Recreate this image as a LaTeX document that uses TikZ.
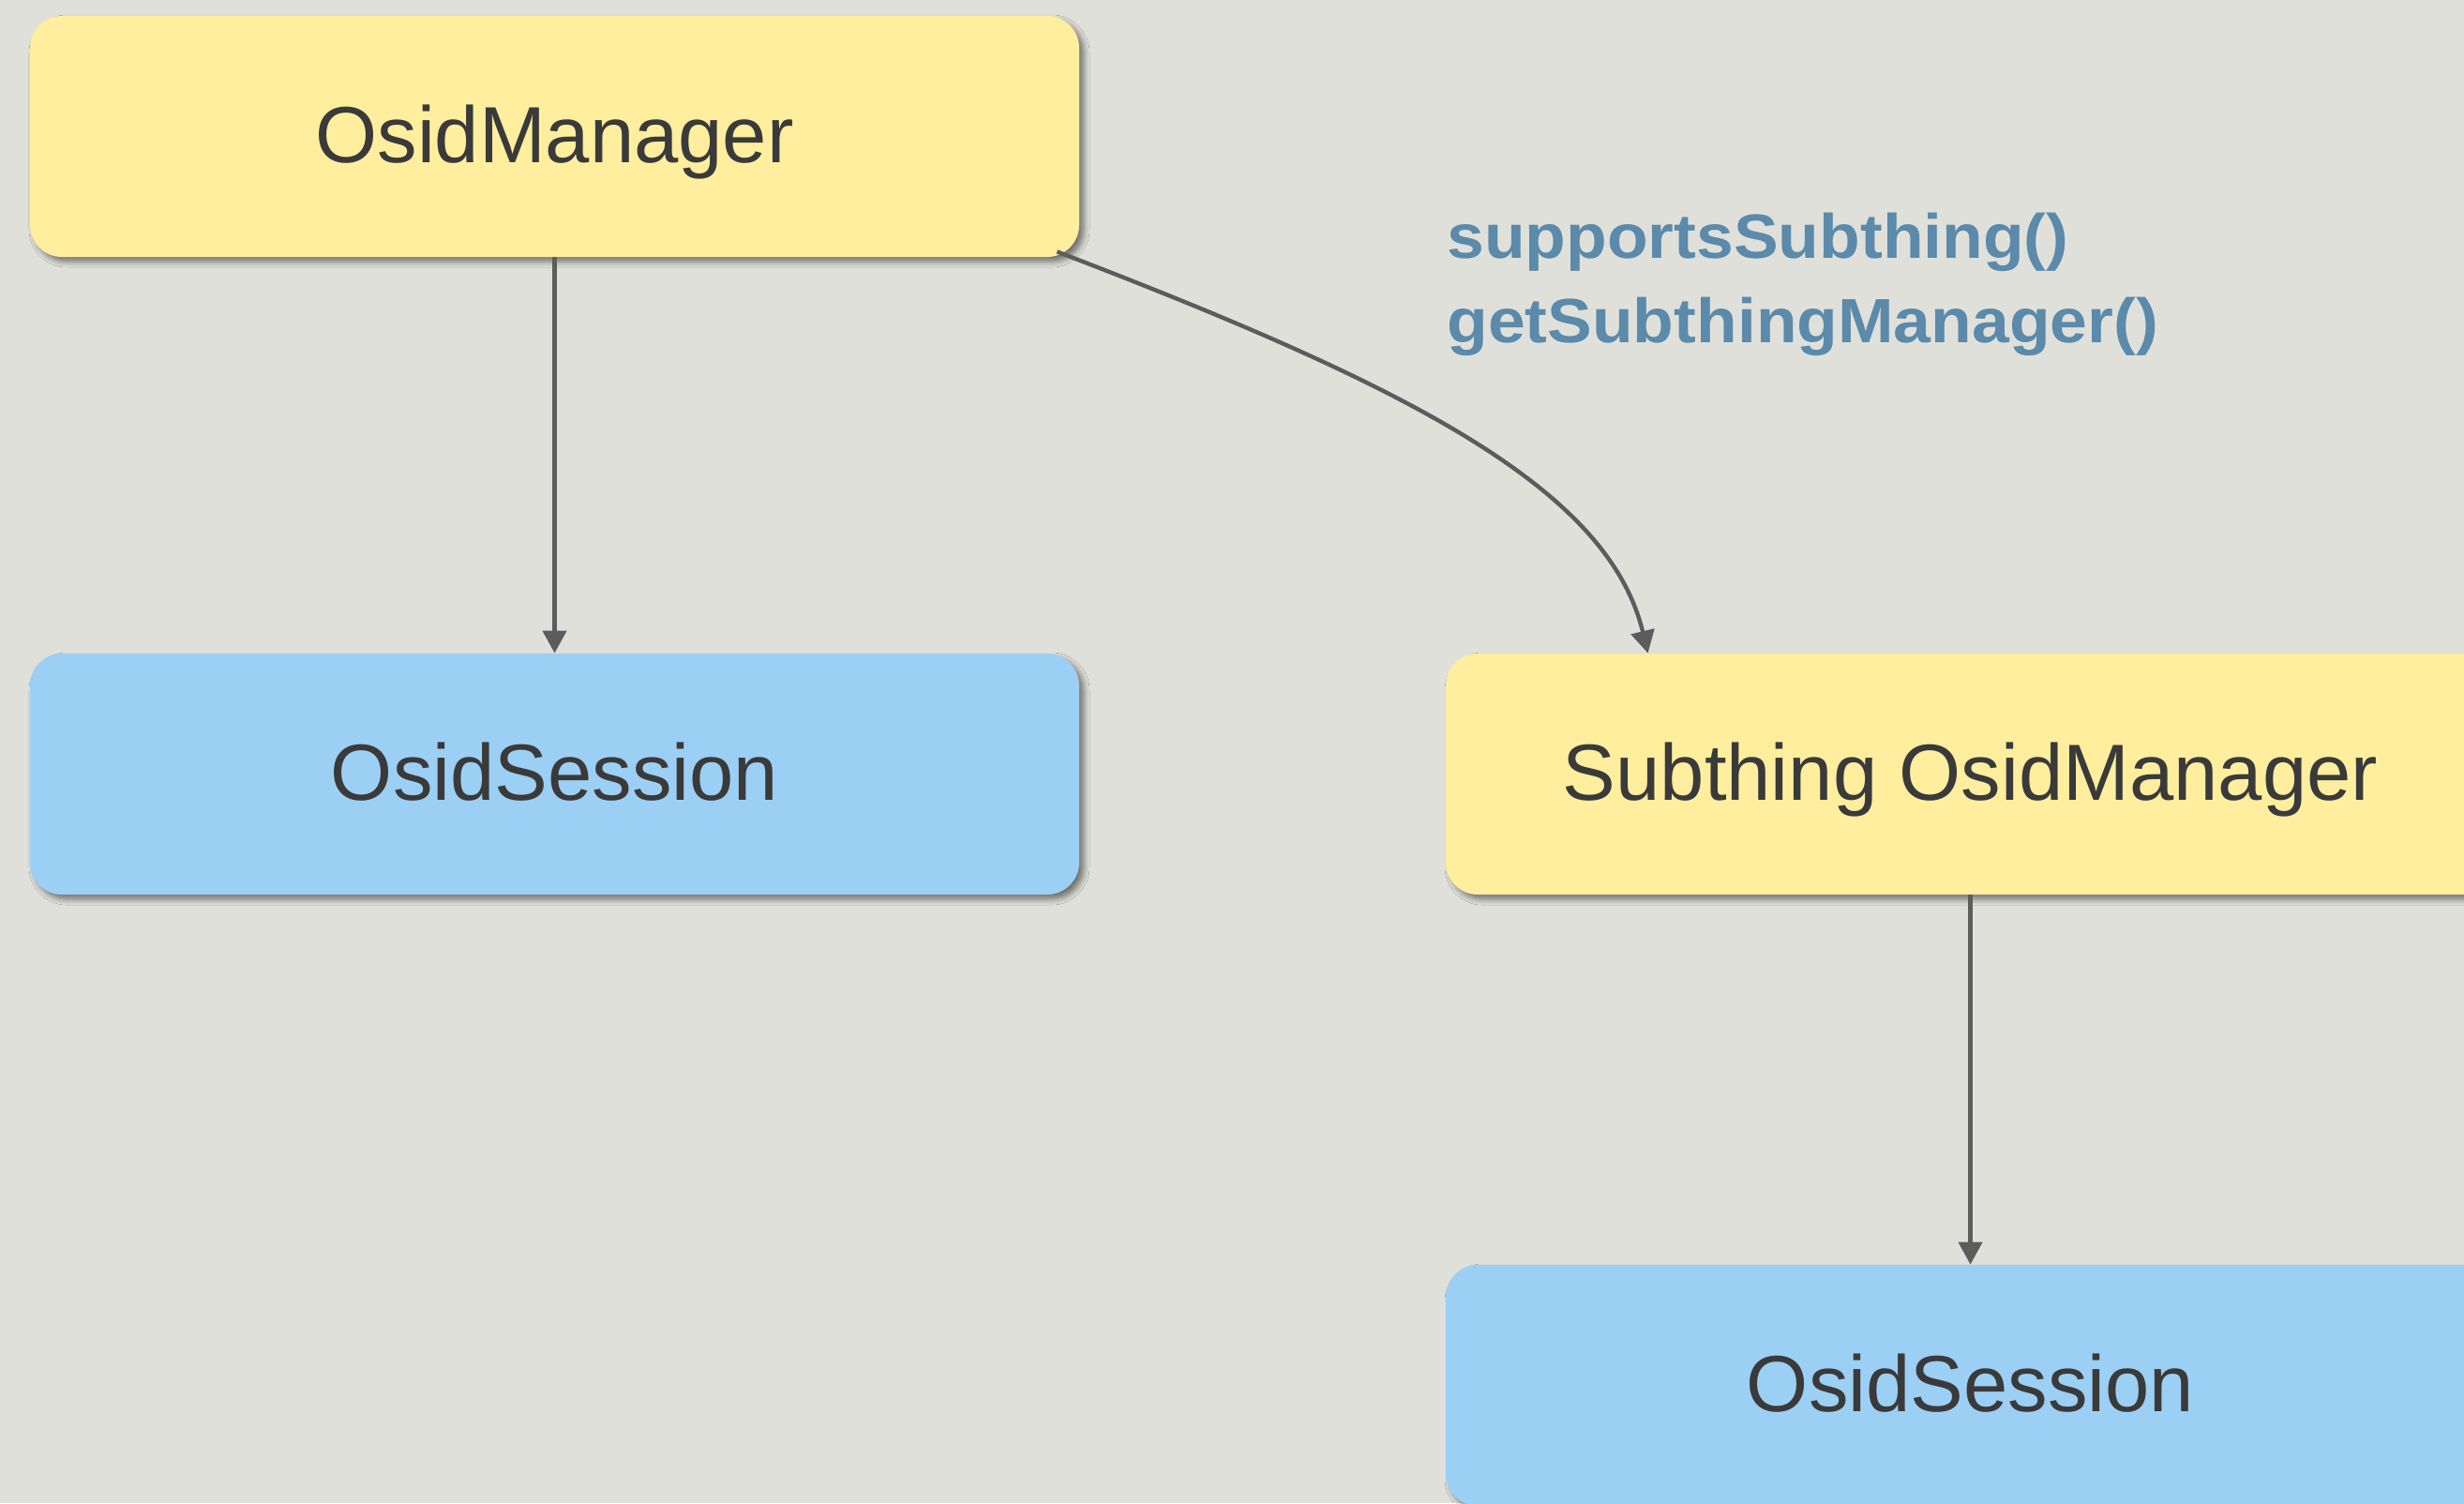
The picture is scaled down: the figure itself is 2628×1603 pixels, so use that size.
\documentclass[tikz,border=0pt]{standalone}
\usepackage{fontspec}
\setmainfont{Liberation Sans}
\newfontfamily\labelfont{Liberation Sans}[FakeStretch=1.07]
\usetikzlibrary{arrows.meta,shadows.blur,calc}

\definecolor{paper}{HTML}{E0E0DB}
\definecolor{mgrfill}{HTML}{FEEE9E}
\definecolor{sesfill}{HTML}{9CCFF4}
\definecolor{ink}{HTML}{3A3A3A}
\definecolor{labelblue}{HTML}{5B8AAA}
\definecolor{wire}{HTML}{5C5C5C}

\tikzset{
  box/.style={rectangle, rounded corners=17pt, inner sep=0pt,
    minimum width=559.5pt, minimum height=128.5pt,
    text height=28pt, text depth=0pt, text=ink,
    font=\fontsize{42.5}{50}\selectfont,
    blur shadow={shadow xshift=2.5pt, shadow yshift=-2.5pt,
      shadow blur radius=3pt, shadow blur steps=6, shadow opacity=50}},
  mgrbox/.style={box, fill=mgrfill},
  sesbox/.style={box, fill=sesfill},
  conn/.style={draw=wire, line width=2.2pt,
    -{Triangle[length=12pt, width=12.5pt]}},
  calllabel/.style={anchor=base west, align=left, inner sep=0pt,
    text=labelblue, font=\fontsize{33.4}{45}\labelfont\bfseries}
}

\begin{document}
\begin{tikzpicture}[x=0.5pt, y=-0.5pt]
  % paper background
  \fill[paper] (0,0) rectangle (2628,1603);
  \useasboundingbox (0,0) rectangle (2628,1603);

  % managers and sessions
  \node[mgrbox] (om)  at (591.5,145.5)   {OsidManager};
  \node[sesbox] (os1) at (591.5,825.5)   {OsidSession};
  \node[mgrbox] (sm)  at (2101.5,825.5)  {Subthing OsidManager};
  \node[sesbox] (os2) at (2101.5,1477.5) {OsidSession};

  % method calls leading to the sub-manager (anchored at the last baseline)
  \node[calllabel] (calls) at (1543,365) {supportsSubthing()\\getSubthingManager()};

  % connectors
  \draw[conn] (om.south) -- (os1.north);
  \draw[conn] (sm.south) -- (os2.north);
  \draw[conn] ($(om.south east)+(-24,-6)$)
    .. controls (1500,411) and (1715,520) .. ($(sm.north west)+(216,0)$);
\end{tikzpicture}
\end{document}
